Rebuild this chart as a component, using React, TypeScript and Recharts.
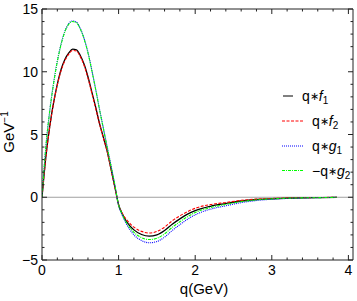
import { LineChart, Line, XAxis, YAxis, ReferenceLine } from 'recharts'

const FONT = '"Liberation Sans", Arial, Helvetica, sans-serif'

// q in GeV
const qGrid = [
  0, 0.05, 0.1, 0.15, 0.2, 0.25, 0.3, 0.35, 0.4, 0.45, 0.5, 0.55, 0.6, 0.65, 0.7, 0.75, 0.8, 0.85, 0.9,
  0.95, 1.0, 1.05, 1.1, 1.15, 1.2, 1.3, 1.4, 1.5, 1.6, 1.7, 1.8, 1.9, 2.0, 2.2, 2.4, 2.6, 2.8, 3.0, 3.2,
  3.4, 3.6, 3.85,
]

const qf1 = [
  0, 3.2, 5.6, 7.5, 9.0, 10.2, 11.0, 11.5, 11.8, 11.75, 11.3, 10.6, 9.6, 8.4, 7.2, 5.9, 4.8, 3.7, 2.3,
  0.85, -0.6, -1.35, -1.9, -2.3, -2.6, -2.97, -3.1, -3.0, -2.65, -2.15, -1.72, -1.35, -1.07, -0.72, -0.5,
  -0.3, -0.18, -0.12, -0.08, -0.05, -0.03, -0.01,
]

const qf2 = [
  0, 3.15, 5.55, 7.45, 8.95, 10.1, 10.9, 11.4, 11.7, 11.65, 11.2, 10.5, 9.5, 8.3, 7.1, 5.85, 4.75, 3.65,
  2.25, 0.8, -0.6, -1.3, -1.75, -2.1, -2.38, -2.72, -2.85, -2.72, -2.38, -1.88, -1.48, -1.15, -0.88, -0.58,
  -0.42, -0.25, -0.15, -0.1, -0.06, -0.04, -0.02, -0.01,
]

const qg1 = [
  0, 4.0, 6.85, 9.05, 10.85, 12.25, 13.25, 13.85, 14.05, 13.95, 13.45, 12.65, 11.55, 10.15, 8.65, 7.05,
  5.55, 4.05, 2.55, 1.0, -0.65, -1.45, -2.1, -2.6, -3.0, -3.45, -3.63, -3.53, -3.18, -2.65, -2.18, -1.75,
  -1.4, -0.95, -0.68, -0.43, -0.26, -0.16, -0.1, -0.06, -0.03, -0.01,
]

// plotted as -q*g2
const minusQg2 = [
  0, 4.0, 6.8, 9.0, 10.8, 12.2, 13.2, 13.8, 14.0, 13.9, 13.4, 12.6, 11.5, 10.1, 8.6, 7.0, 5.5, 4.0, 2.5,
  1.0, -0.6, -1.4, -2.0, -2.45, -2.8, -3.22, -3.37, -3.27, -2.92, -2.4, -1.95, -1.55, -1.22, -0.82, -0.57,
  -0.35, -0.21, -0.13, -0.08, -0.05, -0.03, -0.01,
]

const xTicks = [
  0, 0.2, 0.4, 0.6, 0.8, 1, 1.2, 1.4, 1.6, 1.8, 2, 2.2, 2.4, 2.6, 2.8, 3, 3.2, 3.4, 3.6, 3.8, 4,
]
const yTicks = [-5, -4, -3, -2, -1, 0, 1, 2, 3, 4, 5, 6, 7, 8, 9, 10, 11, 12, 13, 14, 15]

const rows = qGrid.map((q, i) => ({ q, f1: qf1[i], f2: qf2[i], g1: qg1[i], g2: minusQg2[i] }))

const series = [
  { key: 'f1', prefix: 'q', letter: 'f', sub: '1', color: '#000000', dash: undefined, width: 1.3 },
  { key: 'f2', prefix: 'q', letter: 'f', sub: '2', color: '#ff0000', dash: '3 1.5', width: 1.1 },
  { key: 'g1', prefix: 'q', letter: 'g', sub: '1', color: '#0000ff', dash: '1 1', width: 1.1 },
  { key: 'g2', prefix: '−q', letter: 'g', sub: '2', color: '#00ff00', dash: '3 1 1 1', width: 1.1 },
]

const FRAME = '#222'

const isMajor = (v: number, step: number) => Math.abs(v / step - Math.round(v / step)) < 1e-6
const fmt = (v: number) => (v < 0 ? '−' + Math.abs(v) : String(v))

function AxisTick(props: any) {
  const { x, y, payload, side } = props
  const v = payload.value
  const horizontal = side === 'bottom' || side === 'top'
  const major = isMajor(v, horizontal ? 1 : 5)
  const len = major ? 5 : 2.5
  let line
  let label = null
  if (side === 'bottom') {
    line = <line x1={x} x2={x} y1={y} y2={y - len} stroke={FRAME} />
    if (major)
      label = (
        <text x={x} y={y + 15} textAnchor="middle" fontSize={14} fontFamily={FONT} fill="#000">
          {fmt(v)}
        </text>
      )
  } else if (side === 'top') {
    line = <line x1={x} x2={x} y1={y} y2={y + len} stroke={FRAME} />
  } else if (side === 'left') {
    line = <line x1={x} x2={x + len} y1={y} y2={y} stroke={FRAME} />
    if (major)
      label = (
        <text x={x - 4} y={y + 5} textAnchor="end" fontSize={14} fontFamily={FONT} fill="#000">
          {fmt(v)}
        </text>
      )
  } else {
    line = <line x1={x} x2={x - len} y1={y} y2={y} stroke={FRAME} />
  }
  return (
    <g>
      {line}
      {label}
    </g>
  )
}

function LegendLabel({ s, x, y }: { s: (typeof series)[number]; x: number; y: number }) {
  return (
    <text x={x} y={y} fontSize={14} fontFamily={FONT} fill="#000">
      {s.prefix}
      <tspan fontSize={11} dy={-1}>∗</tspan>
      <tspan fontStyle="italic" dy={1}>{s.letter}</tspan>
      <tspan fontSize={10} dy={3}>{s.sub}</tspan>
    </text>
  )
}

export default function App() {
  const legendY = [96, 121, 146, 170.5]
  return (
    <div style={{ position: 'absolute', left: 0, top: 0, width: 357, height: 301, background: '#fff' }}>
      <LineChart width={357} height={301} data={rows} margin={{ top: 0, right: 0, bottom: 0, left: 0 }}>
        <XAxis
          xAxisId="b"
          dataKey="q"
          type="number"
          domain={[0, 4.06]}
          ticks={xTicks}
          interval={0}
          height={41}
          tickSize={0}
          tickMargin={0}
          stroke={FRAME}
          allowDataOverflow
          tick={(p: any) => <AxisTick {...p} side="bottom" />}
        />
        <XAxis
          xAxisId="t"
          orientation="top"
          dataKey="q"
          type="number"
          domain={[0, 4.06]}
          ticks={xTicks}
          interval={0}
          height={9}
          tickSize={0}
          tickMargin={0}
          stroke={FRAME}
          allowDataOverflow
          tick={(p: any) => <AxisTick {...p} side="top" />}
        />
        <YAxis
          yAxisId="l"
          type="number"
          domain={[-5, 15]}
          ticks={yTicks}
          interval={0}
          width={42}
          tickSize={0}
          tickMargin={0}
          stroke={FRAME}
          allowDataOverflow
          tick={(p: any) => <AxisTick {...p} side="left" />}
        />
        <YAxis
          yAxisId="r"
          orientation="right"
          type="number"
          domain={[-5, 15]}
          ticks={yTicks}
          interval={0}
          width={4}
          tickSize={0}
          tickMargin={0}
          stroke={FRAME}
          allowDataOverflow
          tick={(p: any) => <AxisTick {...p} side="right" />}
        />
        <ReferenceLine xAxisId="b" yAxisId="l" y={0} stroke="#a0a0a0" strokeWidth={1} />
        {series.map((s) => (
          <Line
            key={s.key}
            xAxisId="b"
            yAxisId="l"
            dataKey={s.key}
            type="monotone"
            stroke={s.color}
            strokeWidth={s.width}
            strokeDasharray={s.dash}
            dot={false}
            isAnimationActive={false}
          />
        ))}
      </LineChart>
      <svg
        width={357}
        height={301}
        style={{ position: 'absolute', left: 0, top: 0, pointerEvents: 'none' }}
      >
        <text
          transform="translate(14,132) rotate(-90)"
          textAnchor="middle"
          fontSize={15}
          fontFamily={FONT}
          fill="#000"
        >
          GeV
          <tspan fontSize={10} dy={-6}>
            −1
          </tspan>
        </text>
        <text x={204} y={294} textAnchor="middle" fontSize={15} fontFamily={FONT} fill="#000">
          q(GeV)
        </text>
        {series.map((s, i) => {
          const y = legendY[i]
          const solid = !s.dash
          return (
            <g key={s.key}>
              <line
                x1={solid ? 283 : 282}
                x2={solid ? 293 : 303}
                y1={y}
                y2={y}
                stroke={s.color}
                strokeWidth={1}
                strokeDasharray={s.dash}
              />
              <LegendLabel s={s} x={solid ? 302 : 312} y={y + 5} />
            </g>
          )
        })}
      </svg>
    </div>
  )
}
